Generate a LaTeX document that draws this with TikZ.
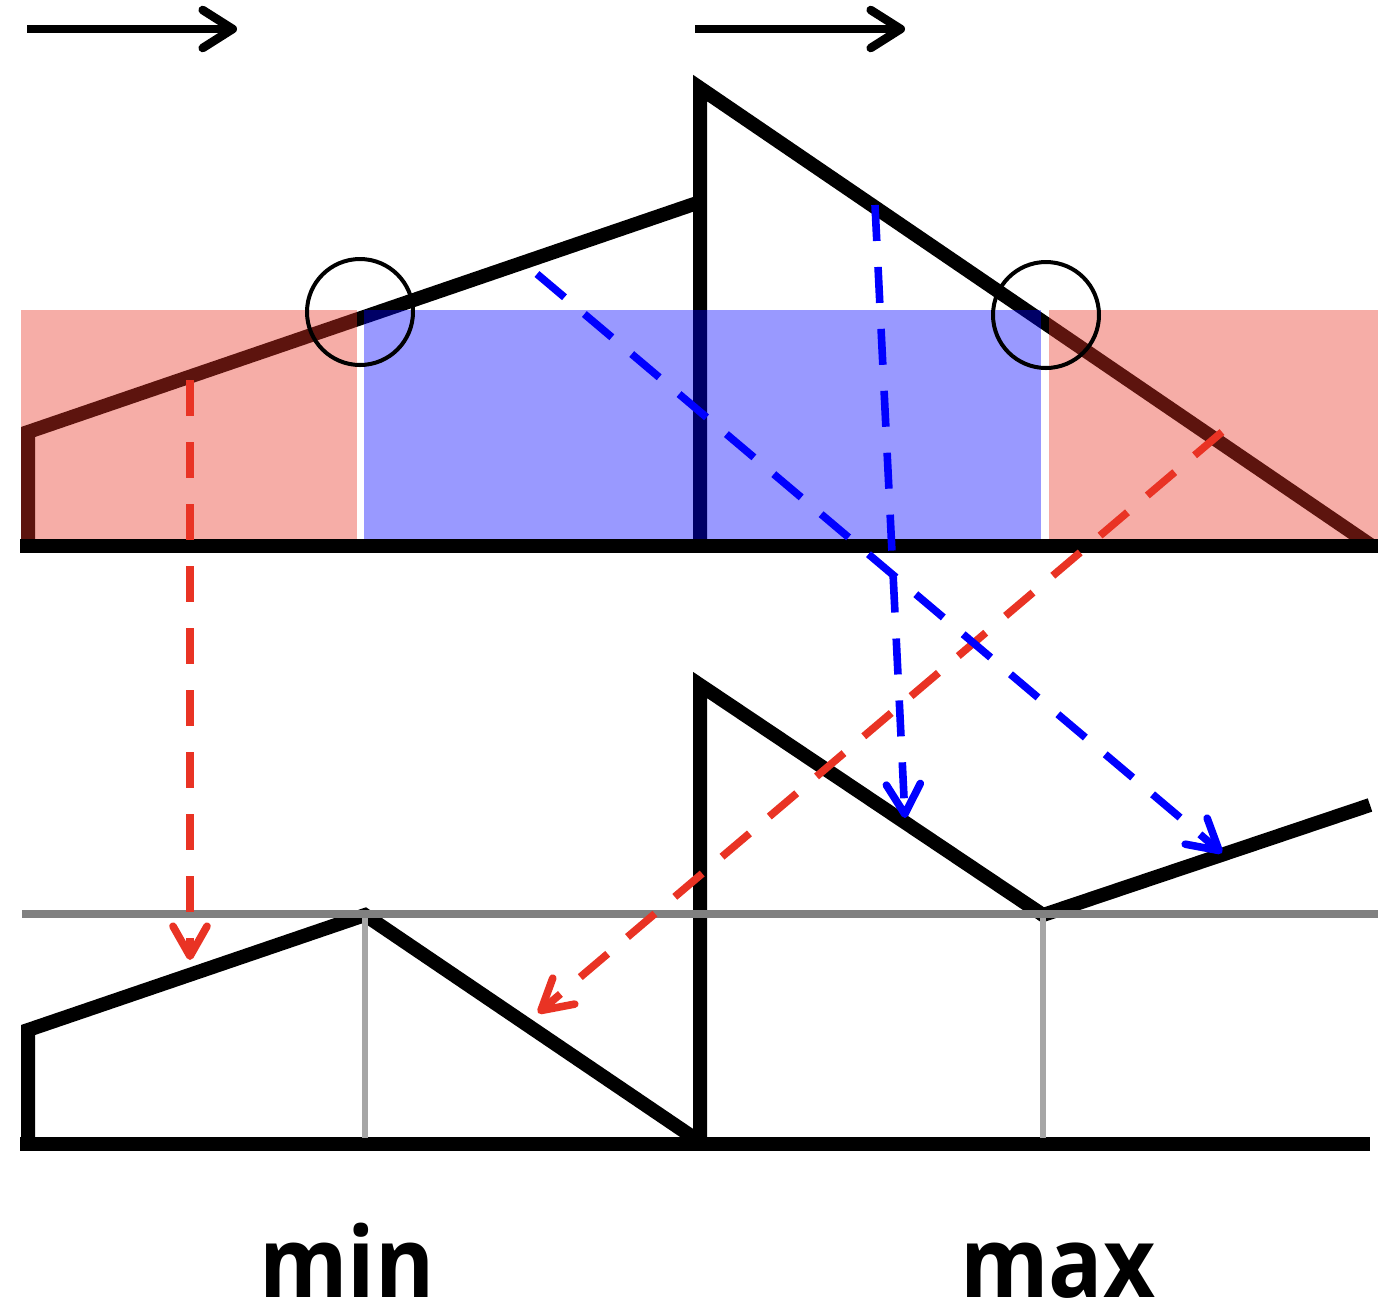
\documentclass[tikz,border=0pt]{standalone}
\usepackage{fontspec}
\setmainfont{Open Sans}
\usetikzlibrary{arrows.meta}
\definecolor{myred}{RGB}{233,51,36}
\definecolor{myblue}{RGB}{0,0,255}
\definecolor{gridgray}{RGB}{128,128,128}
\definecolor{tickgray}{RGB}{166,166,166}
\begin{document}
\begin{tikzpicture}[x=0.5pt,y=-0.5pt,
  wave/.style={line width=7pt, line join=miter},
  toparrow/.style={line width=4.3pt, -{Straight Barb[length=15pt,width=19pt,round]}},
  rdash/.style={myred, line width=3.8pt, dash pattern=on 18pt off 13pt, -{Straight Barb[length=15pt,width=17pt,round]}},
  bdash/.style={myblue, line width=3.8pt, dash pattern=on 18pt off 13pt, -{Straight Barb[length=15pt,width=17pt,round]}},
  redband/.style={fill=myred, fill opacity=0.4},
  blueband/.style={fill=myblue, fill opacity=0.4},
  ring/.style={line width=2pt},
  label/.style={font=\bfseries\fontsize{49pt}{56pt}\selectfont, anchor=base, inner sep=0pt, xscale=0.92}]
\useasboundingbox (0,0) rectangle (1378,1314);

% top arrows
\coordinate (a1s) at (27,29);  \coordinate (a1e) at (237,29);
\coordinate (a2s) at (695,29); \coordinate (a2e) at (905,29);
\draw[toparrow] (a1s) -- (a1e);
\draw[toparrow] (a2s) -- (a2e);

% top wave
\coordinate (t0) at (28,546);  \coordinate (t1) at (28,432);
\coordinate (t2) at (700,202); \coordinate (t3) at (700,546);
\coordinate (t4) at (700,88);  \coordinate (t5) at (1372,546);
\draw[wave] (t0) -- (t1) -- (t2);
\draw[wave] (t3) -- (t4) -- (t5);

% bands
\path[redband]  (21,310) rectangle (357,540);
\path[blueband] (364,310) rectangle (1041,540);
\path[redband]  (1049,310) rectangle (1378,540);

% top baseline
\coordinate (tb0) at (20,546); \coordinate (tb1) at (1378,546);
\draw[wave] (tb0) -- (tb1);

% circles
\coordinate (c1) at (360,312); \coordinate (c2) at (1046,315);
\draw[ring] (c1) circle[radius=53];
\draw[ring] (c2) circle[radius=53];

% bottom wave
\coordinate (b0) at (28,1144);  \coordinate (b1) at (28,1030);
\coordinate (b2) at (365,915);  \coordinate (b3) at (700,1142);
\coordinate (b4) at (700,1144); \coordinate (b5) at (700,685);
\coordinate (b6) at (1043,915); \coordinate (b7) at (1370,805);
\draw[wave] (b0) -- (b1) -- (b2) -- (b3);
\draw[wave] (b4) -- (b5) -- (b6) -- (b7);
\coordinate (bb0) at (20,1144); \coordinate (bb1) at (1370,1144);
\draw[wave] (bb0) -- (bb1);

% gray guides
\coordinate (g0) at (22,914); \coordinate (g1) at (1378,914);
\draw[gridgray, line width=4pt] (g0) -- (g1);
\coordinate (v1a) at (365,918);  \coordinate (v1b) at (365,1138);
\coordinate (v2a) at (1043,918); \coordinate (v2b) at (1043,1138);
\draw[tickgray, line width=3pt] (v1a) -- (v1b);
\draw[tickgray, line width=3pt] (v2a) -- (v2b);

% dashed mappings
\coordinate (r1s) at (190,380);  \coordinate (r1e) at (190,960);
\coordinate (r2s) at (1222,432); \coordinate (r2e) at (538,1013);
\coordinate (u1s) at (537,274);  \coordinate (u1e) at (1222,853);
\coordinate (u2s) at (875,205);  \coordinate (u2e) at (905,818);
\draw[rdash] (r1s) -- (r1e);
\draw[rdash] (r2s) -- (r2e);
\draw[bdash] (u1s) -- (u1e);
\draw[bdash] (u2s) -- (u2e);

% labels
\node[label] (lmin) at (347,1297) {min};
\node[label] (lmax) at (1058,1297) {max};
\end{tikzpicture}
\end{document}
